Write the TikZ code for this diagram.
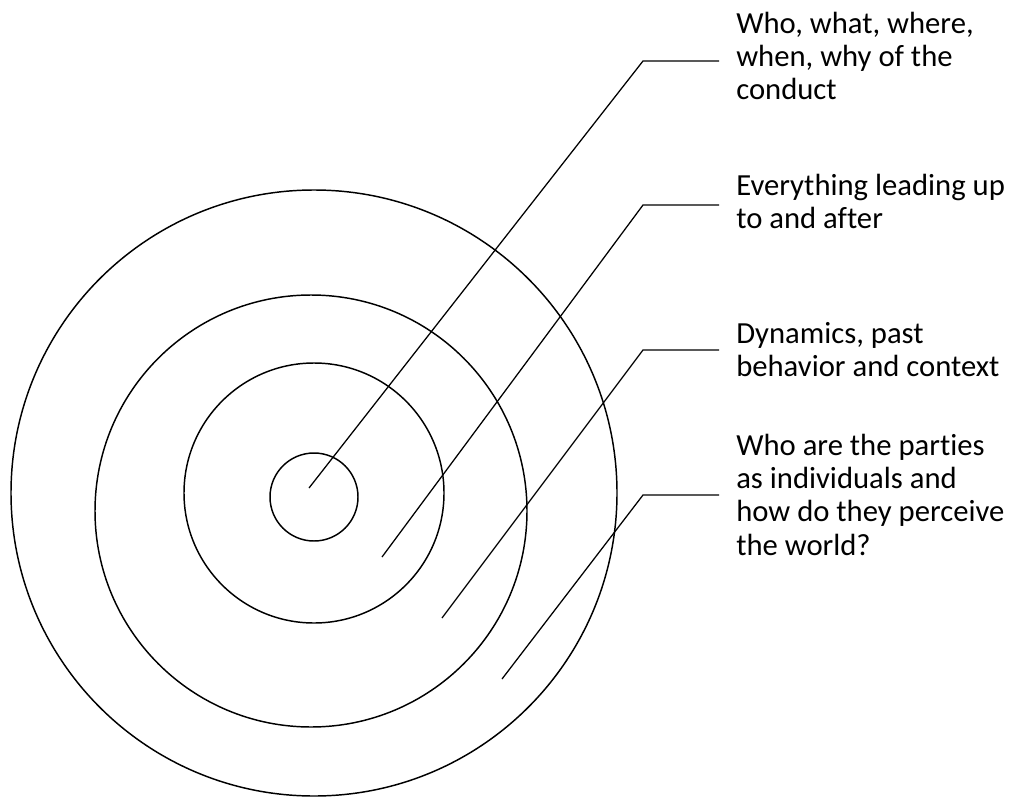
\documentclass[tikz,border=0pt]{standalone}
\usepackage{fontspec}
\setmainfont{Carlito}[Ligatures=NoCommon]
\usetikzlibrary{positioning,calc}

\begin{document}
\begin{tikzpicture}[x=0.75pt,y=-0.75pt,
    ring/.style={draw, line width=1.1pt},
    leader/.style={draw, line width=0.95pt},
    lbl/.style={anchor=north west, inner sep=0pt, align=left, font=\fontsize{23}{24.9}\selectfont},
]
\useasboundingbox (0,0) rectangle (1013,799);

% Rings (not quite concentric, as drawn)
\draw[ring] (314,493) circle[radius=303];
\draw[ring] (311,511) circle[radius=216];
\draw[ring] (314,493) circle[radius=130];
\draw[ring] (314,497) circle[radius=44];

% Labels
\node[lbl] (conduct) at (736,12) {Who, what, where,\\when, why of the\\conduct};
\node[lbl] (before) at (736,174) {Everything leading up\\to and after};
\node[lbl] (context) at (736,322) {Dynamics, past\\behavior and context};
\node[lbl] (parties) at (736,434) {Who are the parties\\as individuals and\\how do they perceive\\the world?};

% Leader lines
\coordinate (s1) at (309,488);  \coordinate (k1) at (643,61);
\coordinate (s2) at (382,557);  \coordinate (k2) at (643,205);
\coordinate (s3) at (442,618);  \coordinate (k3) at (643,350);
\coordinate (s4) at (502,679);  \coordinate (k4) at (643,495);

\draw[leader] (s1) -- (k1) -- ([xshift=-12.75pt]conduct.west |- k1);
\draw[leader] (s2) -- (k2) -- ([xshift=-12.75pt]before.west |- k2);
\draw[leader] (s3) -- (k3) -- ([xshift=-12.75pt]context.west |- k3);
\draw[leader] (s4) -- (k4) -- ([xshift=-12.75pt]parties.west |- k4);

\end{tikzpicture}
\end{document}
